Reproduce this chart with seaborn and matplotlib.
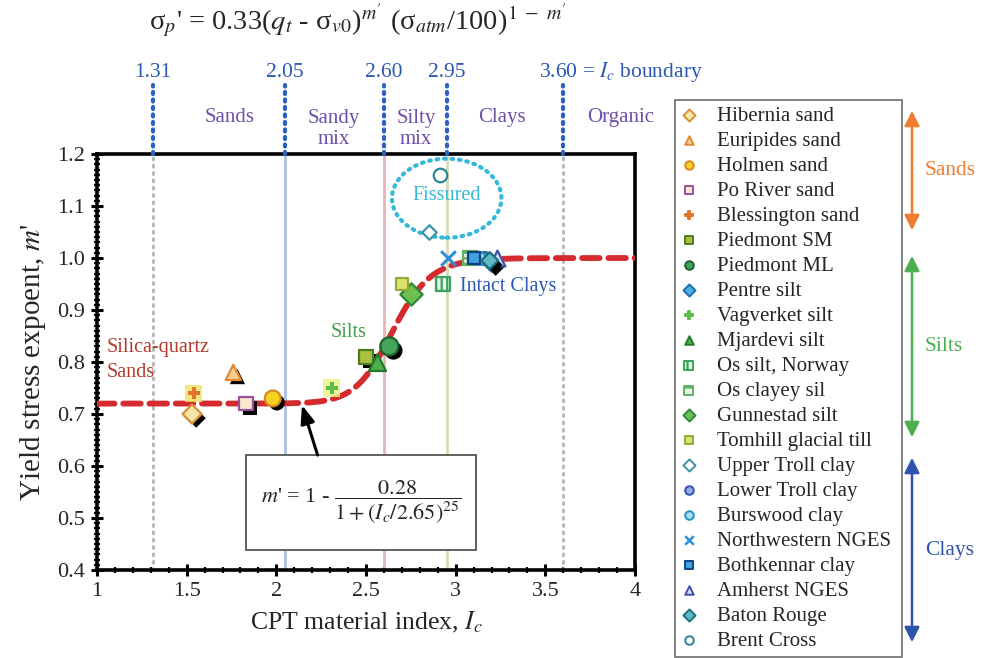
import numpy as np
import pandas as pd
import matplotlib
matplotlib.use("Agg")
import matplotlib.pyplot as plt
import matplotlib.patheffects as pe
import matplotlib.transforms as mtransforms
from matplotlib.patches import Ellipse, Rectangle, FancyArrowPatch
from matplotlib.ticker import MultipleLocator, FuncFormatter
import seaborn as sns

# ---- data -------------------------------------------------------------
materials = [
    "Hibernia sand", "Euripides sand", "Holmen sand", "Po River sand",
    "Blessington sand", "Piedmont SM", "Piedmont ML", "Pentre silt",
    "Vagverket silt", "Mjardevi silt", "Os silt, Norway", "Os clayey sil",
    "Gunnestad silt", "Tomhill glacial till", "Upper Troll clay",
    "Lower Troll clay", "Burswood clay", "Northwestern NGES",
    "Bothkennar clay", "Amherst NGES", "Baton Rouge", "Brent Cross",
]
ic_values = [1.53, 1.76, 1.98, 1.83, 1.54, 2.50, 2.63, 3.20, 2.31, 2.56,
             2.93, 3.08, 2.75, 2.70, 2.85, 3.16, 3.13, 2.96, 3.10, 3.23,
             3.19, 2.91]
m_values = [0.70, 0.78, 0.73, 0.72, 0.74, 0.81, 0.83, 0.99, 0.75, 0.80,
            0.95, 1.00, 0.93, 0.95, 1.05, 1.00, 1.00, 1.00, 1.00, 1.00,
            0.995, 1.16]

# soil behaviour type boundaries on Ic
boundaries = [1.31, 2.05, 2.60, 2.95, 3.60]
boundary_labels = ["1.31", "2.05", "2.60", "2.95", "3.60"]
zone_names = ["Sands", "Sandy\nmix", "Silty\nmix", "Clays", "Organic"]
zone_centers = [1.74, 2.32, 2.78, 3.26, 3.92]

# fitted exponent: m' = 1 - 0.28 / (1 + (Ic/2.65)^25)
fit_a, fit_b, fit_ref, fit_pow = 1.0, 0.28, 2.65, 25

df = pd.DataFrame({"material": materials, "Ic": ic_values, "m": m_values})

# ---- marker styles per material -----------------------------------------
styles = {
    "Hibernia sand":       dict(marker="D", fc="#F9E4A8", ec="#D4913A", s=95, shadow=True),
    "Euripides sand":      dict(marker="^", fc="#F8CF92", ec="#E38A35", s=120, shadow=True),
    "Holmen sand":         dict(marker="o", fc="#F7D225", ec="#D58A22", s=130, shadow=True),
    "Po River sand":       dict(marker="s", fc="#F9E6CF", ec="#9A5098", s=95, shadow=True),
    "Blessington sand":    dict(marker="P", fc="#E0762A", ec="#E0762A", s=70, shadow=False, back="#F3E36A"),
    "Piedmont SM":         dict(marker="s", fc="#A8C23E", ec="#4F7C22", s=95, shadow=True),
    "Piedmont ML":         dict(marker="o", fc="#45A55A", ec="#1F6030", s=170, shadow=True),
    "Pentre silt":         dict(marker="D", fc="#4AAEE2", ec="#1E6EB0", s=75, shadow=True),
    "Vagverket silt":      dict(marker="P", fc="#5DBB4C", ec="#5DBB4C", s=80, shadow=False, back="#EEF08A"),
    "Mjardevi silt":       dict(marker="^", fc="#4CAF50", ec="#237A2A", s=150, shadow=False),
    "Os silt, Norway":     dict(marker="s", fc="#E8F4EA", ec="#39A357", s=110, shadow=False, hatch="|||"),
    "Os clayey sil":       dict(marker="s", fc="#E8F4EA", ec="#5DB360", s=110, shadow=False, hatch="---"),
    "Gunnestad silt":      dict(marker="D", fc="#6DBF4F", ec="#2E8A36", s=130, shadow=False),
    "Tomhill glacial till": dict(marker="s", fc="#DDE36A", ec="#94AA35", s=85, shadow=False),
    "Upper Troll clay":    dict(marker="D", fc="white", ec="#3C93A8", s=55, shadow=False),
    "Lower Troll clay":    dict(marker="o", fc="#94AEE3", ec="#3452B0", s=85, shadow=False),
    "Burswood clay":       dict(marker="o", fc="#A9DCF2", ec="#2192C2", s=85, shadow=False),
    "Northwestern NGES":   dict(marker="x", fc="#2E8FD6", ec="#2E8FD6", s=110, shadow=False),
    "Bothkennar clay":     dict(marker="s", fc="#3FA1E3", ec="#11427F", s=85, shadow=False),
    "Amherst NGES":        dict(marker="^", fc="#D6DCF3", ec="#3E4FA6", s=130, shadow=False),
    "Baton Rouge":         dict(marker="D", fc="#5FB9C3", ec="#1E6E80", s=75, shadow=True),
    "Brent Cross":         dict(marker="o", fc="white", ec="#2A8695", s=95, shadow=False),
}

# ---- figure ----------------------------------------------------------------
sns.set_theme(style="white")
plt.rcParams["font.family"] = ["Liberation Serif", "DejaVu Serif"]
plt.rcParams["mathtext.fontset"] = "stix"
plt.rcParams["hatch.linewidth"] = 1.6

W, H = 985, 658
fig = plt.figure(figsize=(W / 100, H / 100), dpi=100)
ax = fig.add_axes([97 / W, 1 - 570 / H, (635 - 97) / W, (570 - 154) / H])

xmin, xmax, ymin, ymax = 1.0, 4.0, 0.4, 1.2
ax.set_xlim(xmin, xmax)
ax.set_ylim(ymin, ymax)

# boundary lines inside the plot
dotted_grey = dict(color="#B8B8B8", lw=2.2, ls=(0, (0.6, 1.8)), dash_capstyle="round")
inner_styles = [
    dotted_grey,
    dict(color="#A9BFDF", lw=2.0, ls="-"),
    dict(color="#E3B5B8", lw=2.0, ls="-"),
    dict(color="#D3DCB4", lw=2.0, ls="-"),
    dotted_grey,
]
for b, st in zip(boundaries, inner_styles):
    ax.axvline(b, zorder=1, **st)

# blue dotted boundary markers above the plot, with their values
xtrans = ax.get_xaxis_transform()
for b, lab in zip(boundaries, boundary_labels):
    ax.plot([b, b], [1.0, 1.165], transform=xtrans,
            color="#2A62C4", lw=3.0, ls=(0, (0.5, 1.3)), clip_on=False,
            dash_capstyle="round", zorder=5)
    if lab == "3.60":
        shift = mtransforms.ScaledTranslation(-24 / 100, 0, fig.dpi_scale_trans)
        ax.text(b, 1.197, lab + " = $I_c$ boundary", transform=xtrans + shift,
                ha="left", va="center", fontsize=15.5, color="#2A58B2")
    else:
        ax.text(b, 1.197, lab, transform=xtrans, ha="center", va="center",
                fontsize=15.5, color="#2A58B2")

for name, c in zip(zone_names, zone_centers):
    ax.text(c, 1.087 if "\n" not in name else 1.06, name,
            transform=xtrans, ha="center", va="center",
            fontsize=15, color="#6B52A8", linespacing=1.1)

# fitted curve
ic_grid = np.linspace(xmin, xmax, 400)
m_fit = fit_a - fit_b / (1 + (ic_grid / fit_ref) ** fit_pow)
sns.lineplot(x=ic_grid, y=m_fit, ax=ax, color="#D52B2E", lw=4.2,
             zorder=3, legend=False)
ax.lines[-1].set_linestyle((0, (3.0, 1.5)))
ax.lines[-1].set_dash_capstyle("round")

# fissured zone ellipse
ax.add_patch(Ellipse((2.95, 1.115), 0.61, 0.152, fill=False, ec="#35B8DA",
                     lw=3.0, ls=(0, (0.4, 1.4)), zorder=2, capstyle="round"))

# data points
shadow = [pe.SimplePatchShadow(offset=(3, -3), shadow_rgbFace="black", alpha=1.0), pe.Normal()]
legend_handles = []
for name in materials:
    st = styles[name]
    sub = df[df["material"] == name]
    if "back" in st:
        sns.scatterplot(data=sub, x="Ic", y="m", marker="s", s=150, color=st["back"],
                        edgecolor="none", alpha=0.85, ax=ax, legend=False, zorder=4)
    kw = dict(marker=st["marker"], s=st["s"], ax=ax, legend=False, zorder=6)
    if st["marker"] == "x":
        kw.update(color=st["fc"], linewidth=2.2)
    elif st["marker"] == "P":
        kw.update(color=st["fc"], edgecolor="none", linewidth=0)
    else:
        kw.update(color=st["fc"], edgecolor=st["ec"], linewidth=1.6)
    if st.get("hatch"):
        kw["hatch"] = st["hatch"]
    if st["shadow"]:
        kw["path_effects"] = shadow
    sns.scatterplot(data=sub, x="Ic", y="m", **kw)

    hkw = dict(marker=st["marker"], s=38, label=name)
    if st["marker"] == "x":
        hkw.update(color=st["fc"], linewidths=1.8)
    else:
        hkw.update(facecolor=st["fc"], edgecolor=st["ec"], linewidths=1.4)
    if st.get("hatch"):
        hkw["hatch"] = st["hatch"][:2]
    legend_handles.append(ax.scatter([], [], **hkw))

# in-plot annotations
ax.text(1.056, 0.827, "Silica-quartz", fontsize=14.5, color="#B23A2A", va="center")
ax.text(1.056, 0.779, "Sands", fontsize=14.5, color="#B23A2A", va="center")
ax.text(2.30, 0.856, "Silts", fontsize=14.5, color="#3DA04A", va="center")
ax.text(2.95, 1.121, "Fissured", fontsize=14.5, color="#35B8DA", va="center", ha="center")
ax.text(3.025, 0.946, "Intact Clays", fontsize=14.5, color="#2A58B2", va="center")

# equation box with arrow to the curve
ax.add_patch(Rectangle((1.831, 0.438), 3.114 - 1.831, 0.621 - 0.438, fill=True,
                       fc="white", ec="#555555", lw=1.3, zorder=7))
ax.text((1.831 + 3.114) / 2, 0.5295,
        r"$m$' = 1 - $\dfrac{0.28}{1 + (I_c/2.65)^{25}}$",
        ha="center", va="center", fontsize=16, zorder=8)
ax.annotate("", xy=(2.143, 0.717), xytext=(2.23, 0.621),
            arrowprops=dict(arrowstyle="-|>,head_length=0.9,head_width=0.35",
                            color="black", lw=2.2, shrinkA=0, shrinkB=0), zorder=8)

# axes styling
for sp in ax.spines.values():
    sp.set_color("black")
    sp.set_linewidth(2.6)
ax.xaxis.set_major_locator(MultipleLocator(0.5))
ax.xaxis.set_minor_locator(MultipleLocator(0.1))
ax.yaxis.set_major_locator(MultipleLocator(0.1))
ax.yaxis.set_minor_locator(MultipleLocator(0.01))
ax.xaxis.set_major_formatter(FuncFormatter(lambda v, p: f"{v:g}"))
ax.yaxis.set_major_formatter(FuncFormatter(lambda v, p: f"{v:.1f}"))
ax.tick_params(which="major", direction="inout", length=8, width=2.2,
               labelsize=16, pad=5, bottom=True, left=True, color="black")
ax.tick_params(which="minor", direction="inout", length=4, width=1.6,
               bottom=True, left=True, color="black")
ax.set_xlabel("CPT material index, $I_c$", fontsize=18.5, labelpad=6)
ax.set_ylabel("Yield stress expoent, $m$'", fontsize=21, labelpad=6)
ax.grid(False)

# governing equation on top
fig.text(358 / W, 1 - 21 / H,
         r"σ$_p$' = 0.33($q_t$ - σ$_{v0}$)$^{m'}$ (σ$_{atm}$/100)$^{1\ -\ m'}$",
         ha="center", va="center", fontsize=20.5)

# legend
leg = fig.legend(handles=legend_handles, labels=materials, loc="upper left",
                 bbox_to_anchor=(675 / W, 1 - 100 / H, 227 / W, 0), mode="expand",
                 borderaxespad=0, fontsize=15, frameon=True, fancybox=False,
                 edgecolor="#555555", handlelength=0.7, handletextpad=1.0,
                 labelspacing=0.26, borderpad=0.3)
leg.get_frame().set_linewidth(1.3)

# group arrows to the right of the legend
groups = [("Sands", 108, 233, "#EE7D31"), ("Silts", 253, 440, "#4CB050"),
          ("Clays", 455, 645, "#2E54B0")]
for label, y0, y1, col in groups:
    fig.add_artist(FancyArrowPatch((912 / W, 1 - y0 / H), (912 / W, 1 - y1 / H),
                                   transform=fig.transFigure,
                                   arrowstyle="<|-|>,head_length=6,head_width=3",
                                   color=col, lw=1.8, mutation_scale=1.5))
    fig.text(925 / W, 1 - (y0 + y1) / 2 / H, label, color=col, fontsize=15.5,
             ha="left", va="center")

fig.savefig("out.png", dpi=100)
